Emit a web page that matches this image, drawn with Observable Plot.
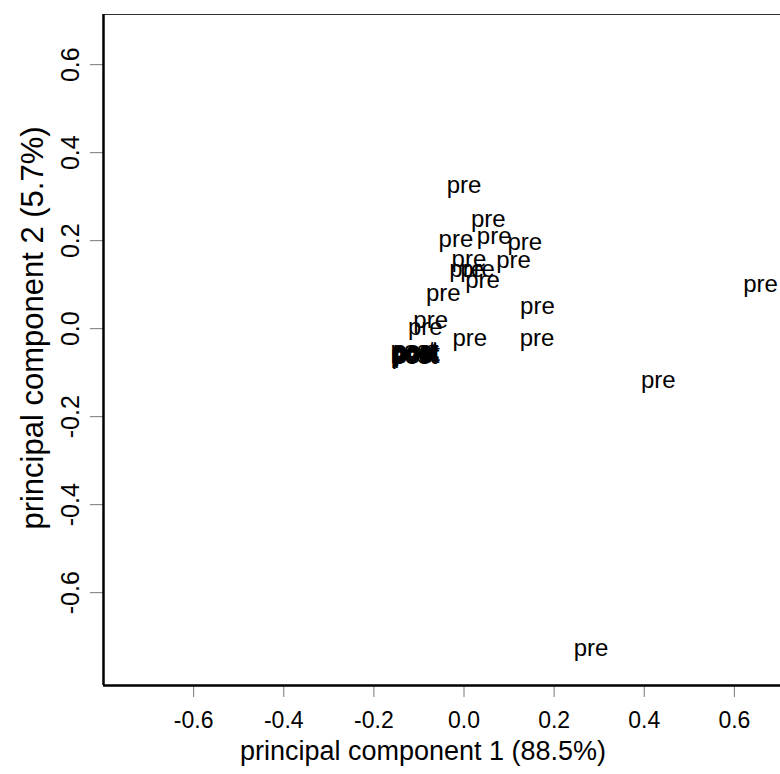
<!DOCTYPE html>
<html><head><meta charset="utf-8">
<script src="https://cdn.jsdelivr.net/npm/d3@7"></script>
<script src="https://cdn.jsdelivr.net/npm/@observablehq/plot@0.6"></script>
<style>
body{margin:0;background:#fff;overflow:hidden}
#chart svg{overflow:hidden}
</style>
</head><body><div id="chart"></div>
<script>
// "pre" sample scores (PC1, PC2)
const preX = [0.000, 0.054, -0.018, 0.067, 0.135, 0.011, 0.110, 0.006, 0.030, 0.041, -0.046, 0.163, -0.074, -0.086, 0.013, 0.162, 0.431, 0.658, 0.282];
const preY = [0.325, 0.249, 0.202, 0.211, 0.196, 0.158, 0.155, 0.136, 0.136, 0.111, 0.080, 0.051, 0.020, 0.003, -0.022, -0.022, -0.118, 0.100, -0.727];
// "post" sample scores (tightly clustered)
const postX = [-0.113, -0.110, -0.106, -0.108, -0.104, -0.112, -0.107, -0.110, -0.105, -0.109];
const postY = [-0.050, -0.055, -0.052, -0.058, -0.055, -0.060, -0.049, -0.062, -0.060, -0.053];
const xTicks = [-0.6, -0.4, -0.2, 0.0, 0.2, 0.4, 0.6];
const yTicks = [-0.6, -0.4, -0.2, 0.0, 0.2, 0.4, 0.6];
const xDomain = [-0.8, 0.8];
const yDomain = [-0.811, 0.714];
const xTitle = "principal component 1 (88.5%)";
const yTitle = "principal component 2 (5.7%)";

const points = preX.map((x, i) => ({x, y: preY[i], label: "pre"}))
  .concat(postX.map((x, i) => ({x, y: postY[i], label: "post"})));
const fmt = d => d.toFixed(1);
const font = "'Liberation Sans', Arial, Helvetica, sans-serif";

const chart = Plot.plot({
  width: 780,
  height: 774,
  marginLeft: 103,
  marginRight: -44,
  marginTop: 14,
  marginBottom: 89,
  x: {domain: xDomain},
  y: {domain: yDomain},
  style: {fontFamily: font, fontSize: "23px", background: "white", color: "black"},
  marks: [
    Plot.axisX({ticks: xTicks, tickFormat: fmt, tickSize: 12, tickPadding: 14, stroke: "#777", fill: "black", fontSize: 23, label: null}),
    Plot.axisY({ticks: yTicks, tickFormat: fmt, tickSize: 13, tickPadding: 12, tickRotate: -90, textAnchor: "middle", lineAnchor: "bottom", stroke: "#777", fill: "black", fontSize: 25, label: null}),
    Plot.ruleY([yDomain[1]], {stroke: "#333", strokeWidth: 1}),
    Plot.ruleX([xDomain[0]], {stroke: "black", strokeWidth: 2.5}),
    Plot.ruleY([yDomain[0]], {stroke: "black", strokeWidth: 2.5}),
    Plot.text(points, {x: "x", y: "y", text: "label", fontSize: 24, fill: "black"}),
    Plot.text([xTitle], {frameAnchor: "bottom", textAnchor: "middle", lineAnchor: "middle", dx: -41, dy: 66, fontSize: 27, fill: "black"}),
    Plot.text([yTitle], {frameAnchor: "left", textAnchor: "middle", lineAnchor: "middle", rotate: -90, dx: -70, dy: -22, fontSize: 31, fill: "black"})
  ]
});
document.getElementById("chart").appendChild(chart);
</script>
</body></html>
